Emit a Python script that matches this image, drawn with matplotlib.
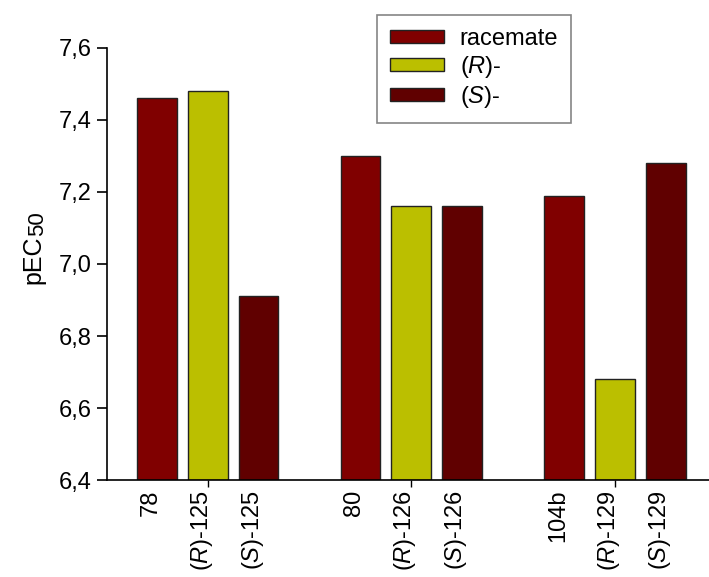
import matplotlib
matplotlib.use("Agg")
import matplotlib.pyplot as plt
from matplotlib.transforms import offset_copy
import numpy as np

plt.rcParams['font.family'] = ['Liberation Sans', 'DejaVu Sans']
plt.rcParams['mathtext.fontset'] = 'custom'
plt.rcParams['mathtext.rm'] = 'Liberation Sans'
plt.rcParams['mathtext.it'] = 'Liberation Sans:italic'

# Compounds, grouped as racemate / (R)- / (S)- triplets
labels = ['78', r'($\mathit{R}$)-125', r'($\mathit{S}$)-125',
          '80', r'($\mathit{R}$)-126', r'($\mathit{S}$)-126',
          '104b', r'($\mathit{R}$)-129', r'($\mathit{S}$)-129']
racemate = [7.46, 7.30, 7.19]
r_enant = [7.48, 7.16, 6.68]
s_enant = [6.91, 7.16, 7.28]
series_names = ['racemate', r'($\mathit{R}$)-', r'($\mathit{S}$)-']
colors = ['#800000', '#bbbf00', '#600000']
yticks = [6.4, 6.6, 6.8, 7.0, 7.2, 7.4, 7.6]
ytick_labels = ['6,4', '6,6', '6,8', '7,0', '7,2', '7,4', '7,6']

W, H = 709, 577
fig = plt.figure(figsize=(W / 100, H / 100), dpi=100)
ax = fig.add_axes([107 / W, 1 - 480 / H, (W - 107) / W, (480 - 48) / H])

base = 6.4
group_starts = np.array([0, 4, 8])
width = 0.78
for k, (vals, name, col) in enumerate(zip([racemate, r_enant, s_enant], series_names, colors)):
    x = group_starts + k
    ax.bar(x, np.array(vals) - base, bottom=base, width=width, color=col,
           edgecolor='#222222', linewidth=1.0, label=name)

ax.set_ylim(6.4, 7.6)
ax.set_xlim(-0.98, 10.85)
ax.set_yticks(yticks)
ax.set_yticklabels(ytick_labels, fontsize=17)
ax.tick_params(axis='y', direction='out', length=7, width=1.2, pad=4)

# Tick marks at the group centres, labels under every bar
ax.set_xticks(group_starts + 1)
ax.set_xticklabels([])
ax.tick_params(axis='x', direction='out', length=5, width=1)
bar_x = np.sort(np.concatenate([group_starts + k for k in range(3)]))
lab_trans = offset_copy(ax.get_xaxis_transform(), fig=fig, x=0, y=-10, units='dots')
for xi, lab in zip(bar_x, labels):
    ax.text(xi, 0, lab, transform=lab_trans, rotation=90, rotation_mode='anchor',
            ha='right', va='baseline', fontsize=17)

for side in ['top', 'right']:
    ax.spines[side].set_visible(False)
for side in ['left', 'bottom']:
    ax.spines[side].set_linewidth(1.2)

# y-axis title: pEC with a slightly lowered, smaller 50
t1 = fig.text(40 / W, 1 - 284 / H, 'pEC', rotation=90, rotation_mode='anchor',
              ha='left', va='baseline', fontsize=18)
fig.canvas.draw()
bb = t1.get_window_extent()
fig.text(43 / W, bb.y1 / H, '50', rotation=90, rotation_mode='anchor',
         ha='left', va='baseline', fontsize=16)

leg = ax.legend(loc='upper left', bbox_to_anchor=(377 / W, 1 - 15 / H),
                bbox_transform=fig.transFigure, fontsize=17, frameon=True,
                fancybox=False, edgecolor='#666666', handlelength=2.3,
                handleheight=0.5, handletextpad=0.65, labelspacing=0.17,
                borderpad=0.55, borderaxespad=0)
leg.get_frame().set_linewidth(1.2)

fig.savefig('out.png', dpi=100)
